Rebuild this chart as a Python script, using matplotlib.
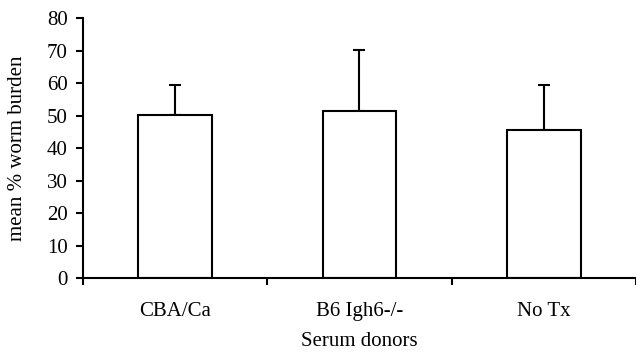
import matplotlib
matplotlib.use('Agg')
import matplotlib.pyplot as plt
import numpy as np

# dane
donors = ['CBA/Ca', 'B6 Igh6-/-', 'No Tx']
mean_burden = [50.2, 51.3, 45.5]
sd_upper = [9.2, 19.0, 13.9]
y_ticks = [0, 10, 20, 30, 40, 50, 60, 70, 80]

plt.rcParams['font.family'] = ['Liberation Serif']
plt.rcParams['font.size'] = 15

fig = plt.figure(figsize=(6.36, 3.56), dpi=100)
ax = fig.add_axes([0.1305, 0.219, 0.8695, 0.730])

x = np.arange(len(donors))
ax.bar(x, mean_burden, width=0.4, color='white', edgecolor='black', linewidth=1.5, zorder=2)
ax.errorbar(x, mean_burden, yerr=[np.zeros(len(x)), sd_upper], fmt='none',
            ecolor='black', elinewidth=1.5, capsize=4, capthick=1.5, zorder=1)

ax.set_xlim(-0.5, len(donors) - 0.5)
ax.set_ylim(0, 80)
ax.set_yticks(y_ticks)

# ticki na granicach kategorii, etykiety pośrodku
ax.set_xticks(np.arange(-0.5, len(donors)), labels=[''] * (len(donors) + 1))
ax.set_xticks(x, labels=donors, minor=True)
ax.tick_params(axis='x', which='minor', length=0, pad=17)
ax.tick_params(axis='x', which='major', length=5, width=1.5, direction='out')
ax.tick_params(axis='y', length=5, width=1.5, direction='out', pad=6)

ax.spines['top'].set_visible(False)
ax.spines['right'].set_visible(False)
ax.spines['left'].set_linewidth(1.5)
ax.spines['bottom'].set_linewidth(1.5)

ax.set_ylabel('mean % worm burden', labelpad=14)
ax.set_xlabel('Serum donors', labelpad=8)

plt.savefig('out.png', dpi=100)
